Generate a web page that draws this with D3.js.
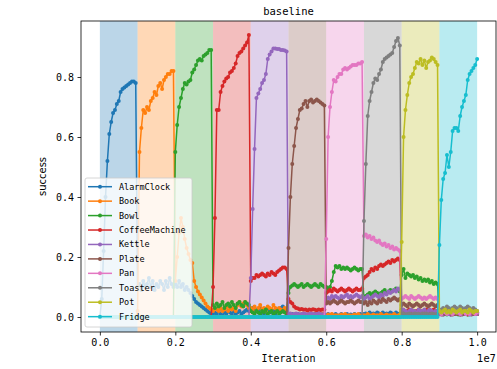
<!DOCTYPE html>
<html>
<head>
<meta charset="utf-8">
<script src="https://cdn.jsdelivr.net/npm/d3@7/dist/d3.min.js"></script>
<style>
  body { margin: 0; background: #fff; }
  svg { display: block; }
</style>
</head>
<body>
<div id="chart"></div>
<script>
// tasks, in training order
const taskNames = ["AlarmClock", "Book", "Bowl", "CoffeeMachine", "Kettle", "Plate", "Pan", "Toaster", "Pot", "Fridge"]
const taskColors = ["#1f77b4", "#ff7f0e", "#2ca02c", "#d62728", "#9467bd", "#8c564b", "#e377c2", "#7f7f7f", "#bcbd22", "#17becf"]
const evalStep = 5e4      // iterations between evaluations
const taskLength = 1e6    // iterations per task
const xTicks = [0, 2e6, 4e6, 6e6, 8e6, 1e7]
const yTicks = [0, 0.2, 0.4, 0.6, 0.8]

// success per evaluation, one row per task band (20 values), last value at 1e7
const alarmClock = [
  0,0.06,0.22,0.40,0.52,0.61,0.65,0.68,0.69,0.71,0.72,0.75,0.76,0.765,0.77,0.775,0.78,0.785,0.785,0.78,
  0.10,0.11,0.09,0.12,0.10,0.11,0.13,0.10,0.12,0.09,0.11,0.10,0.12,0.11,0.09,0.12,0.10,0.13,0.11,0.10,
  0.11,0.10,0.12,0.10,0.11,0.09,0.10,0.09,0.08,0.07,0.06,0.05,0.045,0.04,0.035,0.03,0.025,0.02,0.015,0.01,
  0.01,0.015,0.01,0.02,0.01,0.005,0.015,0.01,0.02,0.015,0.01,0.02,0.01,0.015,0.02,0.01,0.015,0.02,0.025,0.02,
  0.02,0.03,0.02,0.025,0.015,0.03,0.02,0.01,0.025,0.03,0.02,0.015,0.02,0.01,0.025,0.02,0.03,0.035,0.02,0.015,
  0.01,0.005,0.01,0.005,0.005,0.01,0.005,0.008,0.01,0.005,0.005,0.01,0.006,0.005,0.01,0.005,0.008,0.005,0.01,0.005,
  0.005,0.01,0.005,0.008,0.005,0.01,0.005,0.005,0.01,0.006,0.005,0.01,0.005,0.008,0.005,0.01,0.005,0.005,0.01,0.005,
  0.01,0.012,0.01,0.015,0.01,0.012,0.01,0.015,0.012,0.01,0.015,0.01,0.012,0.01,0.015,0.012,0.01,0.015,0.01,0.012,
  0.005,0.008,0.005,0.01,0.005,0.005,0.008,0.005,0.01,0.005,0.006,0.005,0.01,0.005,0.008,0.005,0.005,0.01,0.005,0.006,
  0.01,0.012,0.008,0.01,0.015,0.01,0.008,0.012,0.01,0.015,0.01,0.008,0.012,0.01,0.015,0.01,0.008,0.012,0.01,0.01,
  0.01
]
const book = [
  0,0,0,0,0,0,0,0,0,0,0,0,0,0,0,0,0,0,0,0,
  0.02,0.55,0.63,0.69,0.68,0.70,0.69,0.72,0.73,0.75,0.74,0.77,0.78,0.76,0.79,0.80,0.81,0.81,0.82,0.82,
  0.12,0.20,0.28,0.33,0.30,0.26,0.23,0.21,0.19,0.18,0.12,0.10,0.085,0.075,0.065,0.055,0.045,0.035,0.03,0.025,
  0.02,0.03,0.025,0.02,0.03,0.02,0.025,0.035,0.02,0.03,0.025,0.03,0.02,0.04,0.05,0.035,0.045,0.05,0.04,0.03,
  0.03,0.025,0.035,0.02,0.03,0.04,0.025,0.03,0.02,0.035,0.03,0.025,0.04,0.03,0.02,0.03,0.025,0.02,0.03,0.02,
  0.008,0.005,0.006,0.005,0.01,0.005,0.005,0.008,0.005,0.006,0.005,0.01,0.005,0.005,0.008,0.005,0.006,0.005,0.01,0.005,
  0.005,0.008,0.005,0.01,0.005,0.006,0.005,0.005,0.008,0.005,0.01,0.005,0.006,0.005,0.005,0.008,0.005,0.01,0.005,0.005,
  0.006,0.005,0.01,0.005,0.005,0.008,0.005,0.006,0.005,0.01,0.005,0.005,0.008,0.005,0.006,0.005,0.01,0.005,0.005,0.008,
  0.005,0.006,0.005,0.01,0.005,0.005,0.008,0.005,0.006,0.005,0.01,0.005,0.005,0.008,0.005,0.006,0.005,0.01,0.005,0.005,
  0.012,0.01,0.008,0.012,0.01,0.015,0.01,0.008,0.012,0.01,0.01,0.015,0.008,0.01,0.012,0.01,0.015,0.008,0.01,0.012,
  0.01
]
const bowl = [
  0,0,0,0,0,0,0,0,0,0,0,0,0,0,0,0,0,0,0,0,
  0,0,0,0,0,0,0,0,0,0,0,0,0,0,0,0,0,0,0,0,
  0.55,0.64,0.70,0.73,0.76,0.78,0.775,0.785,0.79,0.815,0.825,0.84,0.855,0.86,0.855,0.87,0.875,0.88,0.89,0.89,
  0.04,0.03,0.045,0.035,0.04,0.05,0.03,0.04,0.045,0.035,0.05,0.04,0.03,0.045,0.05,0.04,0.035,0.05,0.045,0.04,
  0.02,0.015,0.01,0.02,0.015,0.01,0.02,0.015,0.025,0.01,0.015,0.02,0.01,0.015,0.02,0.01,0.015,0.02,0.015,0.01,
  0.08,0.10,0.105,0.11,0.105,0.10,0.105,0.11,0.10,0.105,0.11,0.105,0.10,0.105,0.11,0.105,0.10,0.11,0.105,0.10,
  0.10,0.095,0.10,0.12,0.15,0.17,0.165,0.17,0.16,0.165,0.16,0.165,0.16,0.155,0.16,0.165,0.16,0.155,0.16,0.16,
  0.06,0.07,0.075,0.08,0.075,0.08,0.085,0.08,0.075,0.08,0.085,0.09,0.08,0.085,0.09,0.085,0.09,0.095,0.09,0.085,
  0.14,0.16,0.13,0.145,0.14,0.135,0.14,0.13,0.135,0.125,0.13,0.12,0.125,0.12,0.125,0.115,0.12,0.11,0.115,0.11,
  0.01,0.012,0.015,0.01,0.008,0.012,0.01,0.015,0.01,0.012,0.008,0.01,0.015,0.012,0.01,0.008,0.012,0.01,0.015,0.01,
  0.01
]
const coffeeMachine = [
  0,0,0,0,0,0,0,0,0,0,0,0,0,0,0,0,0,0,0,0,
  0,0,0,0,0,0,0,0,0,0,0,0,0,0,0,0,0,0,0,0,
  0,0,0,0,0,0,0,0,0,0,0,0,0,0,0,0,0,0,0,0,
  0.10,0.33,0.69,0.69,0.75,0.77,0.785,0.795,0.80,0.815,0.82,0.83,0.845,0.87,0.88,0.885,0.895,0.905,0.915,0.94,
  0.12,0.13,0.13,0.14,0.135,0.14,0.145,0.14,0.135,0.145,0.14,0.15,0.145,0.14,0.15,0.155,0.16,0.165,0.165,0.16,
  0.06,0.05,0.045,0.035,0.03,0.028,0.025,0.027,0.024,0.025,0.022,0.025,0.023,0.026,0.024,0.022,0.025,0.023,0.025,0.024,
  0.08,0.085,0.09,0.085,0.095,0.09,0.085,0.09,0.095,0.09,0.085,0.09,0.095,0.09,0.085,0.09,0.095,0.09,0.09,0.095,
  0.13,0.135,0.14,0.15,0.16,0.155,0.165,0.16,0.17,0.175,0.17,0.175,0.18,0.185,0.18,0.19,0.185,0.19,0.195,0.19,
  0.025,0.02,0.015,0.02,0.025,0.02,0.015,0.02,0.02,0.025,0.02,0.015,0.02,0.025,0.02,0.015,0.02,0.025,0.02,0.02,
  0.01,0.008,0.012,0.01,0.015,0.01,0.008,0.01,0.012,0.01,0.015,0.008,0.01,0.012,0.01,0.008,0.015,0.01,0.012,0.01,
  0.01
]
const kettle = [
  0,0,0,0,0,0,0,0,0,0,0,0,0,0,0,0,0,0,0,0,
  0,0,0,0,0,0,0,0,0,0,0,0,0,0,0,0,0,0,0,0,
  0,0,0,0,0,0,0,0,0,0,0,0,0,0,0,0,0,0,0,0,
  0,0,0,0,0,0,0,0,0,0,0,0,0,0,0,0,0,0,0,0,
  0.13,0.36,0.56,0.73,0.745,0.76,0.78,0.79,0.81,0.86,0.875,0.885,0.895,0.895,0.893,0.893,0.89,0.89,0.888,0.885,
  0.01,0.012,0.008,0.01,0.012,0.01,0.008,0.01,0.012,0.01,0.008,0.01,0.012,0.01,0.008,0.01,0.012,0.01,0.008,0.01,
  0.06,0.065,0.06,0.07,0.065,0.07,0.065,0.06,0.07,0.065,0.07,0.075,0.065,0.07,0.065,0.07,0.075,0.07,0.065,0.07,
  0.06,0.065,0.07,0.06,0.065,0.07,0.075,0.07,0.065,0.075,0.07,0.08,0.075,0.085,0.08,0.085,0.09,0.085,0.095,0.09,
  0.02,0.025,0.02,0.015,0.02,0.025,0.02,0.02,0.015,0.025,0.02,0.02,0.025,0.015,0.02,0.025,0.02,0.015,0.02,0.02,
  0.01,0.012,0.008,0.01,0.015,0.01,0.012,0.008,0.01,0.012,0.015,0.01,0.008,0.012,0.01,0.015,0.01,0.008,0.01,0.012,
  0.01
]
const plate = [
  0,0,0,0,0,0,0,0,0,0,0,0,0,0,0,0,0,0,0,0,
  0,0,0,0,0,0,0,0,0,0,0,0,0,0,0,0,0,0,0,0,
  0,0,0,0,0,0,0,0,0,0,0,0,0,0,0,0,0,0,0,0,
  0,0,0,0,0,0,0,0,0,0,0,0,0,0,0,0,0,0,0,0,
  0,0,0,0,0,0,0,0,0,0,0,0,0,0,0,0,0,0,0,0,
  0.23,0.40,0.51,0.57,0.63,0.66,0.69,0.695,0.71,0.72,0.70,0.72,0.725,0.715,0.72,0.725,0.72,0.715,0.71,0.705,
  0.045,0.05,0.045,0.05,0.055,0.05,0.045,0.05,0.055,0.05,0.045,0.05,0.05,0.055,0.05,0.045,0.05,0.055,0.05,0.05,
  0.045,0.05,0.04,0.05,0.045,0.055,0.05,0.045,0.055,0.05,0.06,0.055,0.05,0.06,0.055,0.06,0.065,0.06,0.055,0.06,
  0.04,0.045,0.04,0.035,0.045,0.04,0.035,0.04,0.045,0.04,0.035,0.04,0.045,0.04,0.035,0.04,0.045,0.04,0.035,0.04,
  0.015,0.02,0.015,0.01,0.02,0.015,0.02,0.015,0.01,0.02,0.015,0.02,0.015,0.01,0.02,0.015,0.02,0.015,0.01,0.015,
  0.015
]
const pan = [
  0,0,0,0,0,0,0,0,0,0,0,0,0,0,0,0,0,0,0,0,
  0,0,0,0,0,0,0,0,0,0,0,0,0,0,0,0,0,0,0,0,
  0,0,0,0,0,0,0,0,0,0,0,0,0,0,0,0,0,0,0,0,
  0,0,0,0,0,0,0,0,0,0,0,0,0,0,0,0,0,0,0,0,
  0,0,0,0,0,0,0,0,0,0,0,0,0,0,0,0,0,0,0,0,
  0,0,0,0,0,0,0,0,0,0,0,0,0,0,0,0,0,0,0,0,
  0.26,0.60,0.70,0.75,0.79,0.785,0.80,0.81,0.81,0.825,0.83,0.825,0.83,0.835,0.84,0.84,0.84,0.845,0.845,0.85,
  0.27,0.275,0.265,0.27,0.26,0.265,0.255,0.25,0.255,0.245,0.24,0.245,0.235,0.24,0.23,0.235,0.225,0.23,0.225,0.22,
  0.06,0.065,0.07,0.065,0.06,0.07,0.065,0.06,0.065,0.07,0.065,0.06,0.065,0.06,0.065,0.07,0.065,0.06,0.065,0.06,
  0.015,0.01,0.02,0.015,0.01,0.015,0.02,0.01,0.015,0.02,0.015,0.01,0.015,0.02,0.01,0.015,0.01,0.02,0.015,0.01,
  0.015
]
const toaster = [
  0,0,0,0,0,0,0,0,0,0,0,0,0,0,0,0,0,0,0,0,
  0,0,0,0,0,0,0,0,0,0,0,0,0,0,0,0,0,0,0,0,
  0,0,0,0,0,0,0,0,0,0,0,0,0,0,0,0,0,0,0,0,
  0,0,0,0,0,0,0,0,0,0,0,0,0,0,0,0,0,0,0,0,
  0,0,0,0,0,0,0,0,0,0,0,0,0,0,0,0,0,0,0,0,
  0,0,0,0,0,0,0,0,0,0,0,0,0,0,0,0,0,0,0,0,
  0,0,0,0,0,0,0,0,0,0,0,0,0,0,0,0,0,0,0,0,
  0.32,0.51,0.67,0.72,0.75,0.78,0.795,0.79,0.81,0.825,0.85,0.86,0.865,0.87,0.875,0.88,0.90,0.92,0.93,0.905,
  0.01,0.012,0.008,0.01,0.012,0.01,0.008,0.012,0.01,0.01,0.008,0.012,0.01,0.012,0.008,0.01,0.012,0.01,0.008,0.01,
  0.02,0.025,0.03,0.025,0.035,0.03,0.025,0.03,0.035,0.03,0.025,0.035,0.03,0.025,0.03,0.035,0.03,0.025,0.03,0.025,
  0.02
]
const pot = [
  0,0,0,0,0,0,0,0,0,0,0,0,0,0,0,0,0,0,0,0,
  0,0,0,0,0,0,0,0,0,0,0,0,0,0,0,0,0,0,0,0,
  0,0,0,0,0,0,0,0,0,0,0,0,0,0,0,0,0,0,0,0,
  0,0,0,0,0,0,0,0,0,0,0,0,0,0,0,0,0,0,0,0,
  0,0,0,0,0,0,0,0,0,0,0,0,0,0,0,0,0,0,0,0,
  0,0,0,0,0,0,0,0,0,0,0,0,0,0,0,0,0,0,0,0,
  0,0,0,0,0,0,0,0,0,0,0,0,0,0,0,0,0,0,0,0,
  0,0,0,0,0,0,0,0,0,0,0,0,0,0,0,0,0,0,0,0,
  0.25,0.60,0.69,0.74,0.78,0.80,0.81,0.83,0.85,0.845,0.86,0.84,0.855,0.83,0.85,0.855,0.865,0.86,0.85,0.84,
  0.02,0.015,0.02,0.025,0.015,0.02,0.015,0.025,0.02,0.015,0.02,0.025,0.015,0.02,0.02,0.015,0.025,0.02,0.015,0.02,
  0.02
]
const fridge = [
  0,0,0,0,0,0,0,0,0,0,0,0,0,0,0,0,0,0,0,0,
  0,0,0,0,0,0,0,0,0,0,0,0,0,0,0,0,0,0,0,0,
  0,0,0,0,0,0,0,0,0,0,0,0,0,0,0,0,0,0,0,0,
  0,0,0,0,0,0,0,0,0,0,0,0,0,0,0,0,0,0,0,0,
  0,0,0,0,0,0,0,0,0,0,0,0,0,0,0,0,0,0,0,0,
  0,0,0,0,0,0,0,0,0,0,0,0,0,0,0,0,0,0,0,0,
  0,0,0,0,0,0,0,0,0,0,0,0,0,0,0,0,0,0,0,0,
  0,0,0,0,0,0,0,0,0,0,0,0,0,0,0,0,0,0,0,0,
  0,0,0,0,0,0,0,0,0,0,0,0,0,0,0,0,0,0,0,0,
  0.24,0.39,0.46,0.48,0.54,0.50,0.55,0.62,0.63,0.63,0.62,0.67,0.70,0.72,0.74,0.79,0.81,0.82,0.83,0.84,
  0.86
]
const taskSeries = [alarmClock, book, bowl, coffeeMachine, kettle, plate, pan, toaster, pot, fridge]


const w = 497
const h = 369
const plot = {left: 81, right: 496, top: 21, bottom: 332}
const monoFont = "'DejaVu Sans Mono', monospace"
const sansFont = "'DejaVu Sans', sans-serif"

const svg = d3.select("#chart").append("svg")
    .attr("width", w)
    .attr("height", h)

svg.append("rect").attr("width", w).attr("height", h).attr("fill", "#fff")

const xScale = d3.scaleLinear()
    .domain([-5e5, 1.05e7])
    .range([plot.left, plot.right])

const yScale = d3.scaleLinear()
    .domain([-0.05, 0.9867])
    .range([plot.bottom, plot.top])

const clip = svg.append("clipPath").attr("id", "plot-clip")
clip.append("rect")
    .attr("x", plot.left).attr("y", plot.top)
    .attr("width", plot.right - plot.left).attr("height", plot.bottom - plot.top)

// shaded band per task
svg.append("g").attr("class", "bands")
    .selectAll("rect")
    .data(taskNames)
    .join("rect")
    .attr("x", (d, i) => xScale(i * taskLength))
    .attr("width", (d, i) => xScale((i + 1) * taskLength) - xScale(i * taskLength))
    .attr("y", plot.top)
    .attr("height", plot.bottom - plot.top)
    .attr("fill", (d, i) => taskColors[i])
    .attr("fill-opacity", 0.3)

// curves
const line = d3.line()
    .x((d, i) => xScale(i * evalStep))
    .y(d => yScale(d))

const curves = svg.append("g").attr("class", "curves").attr("clip-path", "url(#plot-clip)")
taskSeries.forEach((values, k) => {
    const g = curves.append("g")
    g.append("path")
        .attr("d", line(values))
        .attr("fill", "none")
        .attr("stroke", taskColors[k])
        .attr("stroke-width", 1.5)
        .attr("stroke-linejoin", "round")
    g.selectAll("circle")
        .data(values)
        .join("circle")
        .attr("cx", (d, i) => xScale(i * evalStep))
        .attr("cy", d => yScale(d))
        .attr("r", 2)
        .attr("fill", taskColors[k])
})

// axes
const xAxis = svg.append("g")
    .attr("transform", `translate(0, ${plot.bottom})`)
    .call(d3.axisBottom(xScale).tickValues(xTicks).tickSize(3.5).tickPadding(3.5)
        .tickFormat(d => (d / 1e7).toFixed(1)))

const yAxis = svg.append("g")
    .attr("transform", `translate(${plot.left}, 0)`)
    .call(d3.axisLeft(yScale).tickValues(yTicks).tickSize(3.5).tickPadding(3.5)
        .tickFormat(d => d.toFixed(1)))

;[xAxis, yAxis].forEach(axis => {
    axis.select(".domain").remove()
    axis.selectAll("line").attr("stroke", "#000").attr("stroke-width", 0.8)
    axis.selectAll("text")
        .attr("fill", "#000")
        .style("font-size", "10px")
        .style("font-family", monoFont)
})

svg.append("rect")
    .attr("x", plot.left).attr("y", plot.top)
    .attr("width", plot.right - plot.left).attr("height", plot.bottom - plot.top)
    .attr("fill", "none")
    .attr("stroke", "#000")
    .attr("stroke-width", 0.8)

// texts
svg.append("text")
    .attr("x", (plot.left + plot.right) / 2)
    .attr("y", 15)
    .attr("text-anchor", "middle")
    .style("font-size", "10.5px")
    .style("font-family", monoFont)
    .text("baseline")

svg.append("text")
    .attr("x", (plot.left + plot.right) / 2)
    .attr("y", 362)
    .attr("text-anchor", "middle")
    .style("font-size", "10px")
    .style("font-family", monoFont)
    .text("Iteration")

svg.append("text")
    .attr("x", plot.right)
    .attr("y", 362)
    .attr("text-anchor", "end")
    .style("font-size", "10px")
    .style("font-family", sansFont)
    .text("1e7")

svg.append("text")
    .attr("transform", `translate(46, ${(plot.top + plot.bottom) / 2}) rotate(-90)`)
    .attr("text-anchor", "middle")
    .style("font-size", "10px")
    .style("font-family", sansFont)
    .text("success")

// legend
const legend = svg.append("g").attr("class", "legend")
legend.append("rect")
    .attr("x", 85).attr("y", 178)
    .attr("width", 107).attr("height", 149)
    .attr("rx", 2)
    .attr("fill", "#fff")
    .attr("fill-opacity", 0.8)
    .attr("stroke", "#ccc")
    .attr("stroke-width", 0.8)

const entries = legend.selectAll("g.entry")
    .data(taskNames)
    .join("g")
    .attr("class", "entry")
    .attr("transform", (d, i) => `translate(0, ${186.7 + i * 14.44})`)

entries.append("line")
    .attr("x1", 88).attr("x2", 112)
    .attr("stroke", (d, i) => taskColors[i])
    .attr("stroke-width", 1.5)
entries.append("circle")
    .attr("cx", 100).attr("r", 2)
    .attr("fill", (d, i) => taskColors[i])
entries.append("text")
    .attr("x", 119)
    .attr("dy", "0.35em")
    .style("font-size", "8.5px")
    .style("font-family", monoFont)
    .text(d => d)
</script>
</body>
</html>
